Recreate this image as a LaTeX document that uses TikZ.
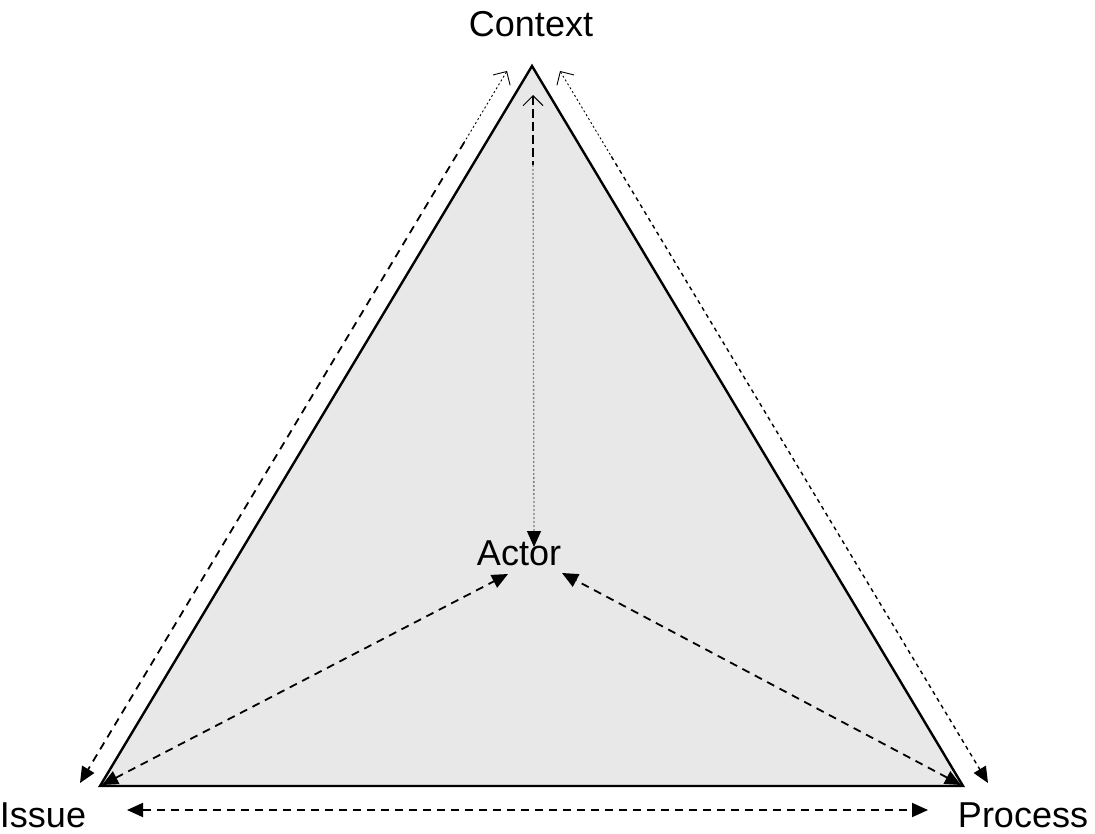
\documentclass[tikz,border=0pt]{standalone}
\usepackage{fontspec}
\setmainfont{Liberation Sans}
\usetikzlibrary{arrows.meta,calc}
\definecolor{trifill}{RGB}{232,232,232}
\begin{document}
\begin{tikzpicture}[x=1pt,y=-1pt,
  lbl/.style={font=\fontsize{36}{43}\selectfont, inner sep=0pt, anchor=base},
  ftip/.tip={Triangle[length=16pt,width=14pt]},
  otip/.tip={Straight Barb[length=10pt,width=20pt,line width=0.9pt]},
  dashline/.style={line width=1.8pt, dash pattern=on 8pt off 6pt},
  fineline/.style={line width=1.4pt, dash pattern=on 4pt off 4pt},
  thinline/.style={line width=0.9pt, dash pattern=on 2pt off 2.5pt},
  grayline/.style={line width=1.3pt, gray, dash pattern=on 2pt off 2pt}
]
\useasboundingbox (0,0) rectangle (1095,834);

% triangle corners
\coordinate (T) at (532,66);
\coordinate (L) at (100,786);
\coordinate (R) at (963,786);
\filldraw[fill=trifill, draw=black, line width=2.4pt, line join=miter] (T) -- (L) -- (R) -- cycle;

% labels
\node[lbl] (ctx) at (531,37) {Context};
\node[lbl] (iss) at (43,827) {Issue};
\node[lbl] (proc) at (1023,827) {Process};
\node[lbl] (act) at (519,565) {Actor};

% arrow end points
\coordinate (Lt) at (507,71);
\coordinate (Lb) at (80,783);
\coordinate (Rt) at (560,71);
\coordinate (Rb) at (988,783);
\coordinate (Vt) at (533,95);
\coordinate (Vb) at (534,547);
\coordinate (Ai) at (508,574);
\coordinate (Ap) at (562,573);
\coordinate (Ic) at (102,785);
\coordinate (Pc) at (961,785);
\coordinate (Bl) at (127,810);
\coordinate (Br) at (928,810);

% left side arrow
\coordinate (Lm) at ($(Lt)!0.1!(Lb)$);
\draw[thinline, otip-] (Lt) -- (Lm);
\draw[dashline, -ftip] (Lm) -- (Lb);

% right side arrow
\coordinate (Rm) at ($(Rt)!0.12!(Rb)$);
\draw[thinline, otip-] (Rt) -- (Rm);
\draw[fineline, -ftip] (Rm) -- (Rb);

% vertical arrow
\coordinate (Vm) at (533,165);
\draw[line width=1.8pt, dash pattern=on 9pt off 4pt, otip-] (Vt) -- (Vm);
\draw[grayline] (Vm) -- ($(Vb)+(0,-12)$);
\draw[line width=1.3pt, -ftip] ($(Vb)+(0,-14)$) -- (Vb);

% actor arrows
\draw[dashline, ftip-ftip] (Ic) -- (Ai);
\draw[dashline, ftip-ftip] (Pc) -- (Ap);

% bottom arrow
\draw[dashline, ftip-ftip] (Bl) -- (Br);
\end{tikzpicture}
\end{document}
